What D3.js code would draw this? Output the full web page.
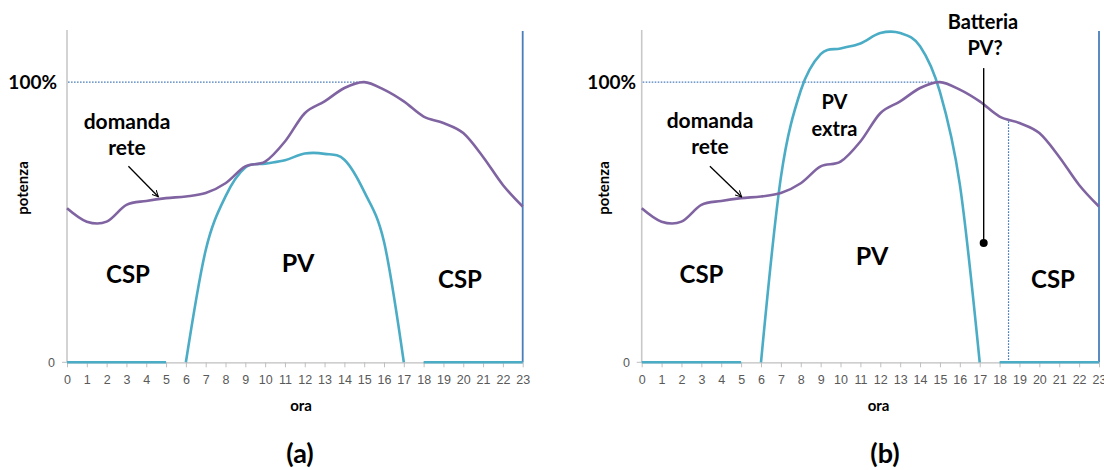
<!DOCTYPE html>
<html><head><meta charset="utf-8">
<script src="https://cdn.jsdelivr.net/npm/d3@7"></script>
<style>
body{margin:0;background:#fff}
svg{display:block}
.lbl{font-family:Lato,"Open Sans",sans-serif;font-weight:700;fill:#000}
.tick text{font-family:"Liberation Sans",Arial,sans-serif;fill:#595959}
</style>
</head><body>
<svg id="chart" width="1104" height="470"></svg>
<script>
// ---------------- data ----------------
const hours = [0,1,2,3,4,5,6,7,8,9,10,11,12,13,14,15,16,17,18,19,20,21,22,23];
const hourLabels = ["0","1","2","3","4","5","6","7","8","9","10","11","12","13","14","15","16","17","18","19","20","21","22","23"];
// grid demand ("domanda rete"), % of peak
const demand = [55.0,50.2,50.2,56.2,57.6,58.6,59.2,60.4,63.9,69.9,71.6,78.8,88.9,93.1,97.9,100,97.3,93.1,87.7,85.4,81.8,73.3,63.3,55.6];
// PV output, panel (a)
const pvA = [0,0,0,0,0,0,0,40,59.2,69.5,70.9,72.1,74.5,74.4,72.3,60.9,43,0,0,0,0,0,0,0];
// PV output with extra capacity, panel (b)
const pvB = [0,0,0,0,0,0,0,66,97,110,112,113.8,117.5,117.5,112.8,96.5,63.5,0,0,0,0,0,0,0];
const yTickValues = [0,100];
const yTickLabels = ["0","100%"];
const yMax = 118.6;
const peakHour = 15;
const peakValue = 100;
const batteryEnd = {hour:18.45, value:86};
const batteryPin = {hour:17.2, top:105, bottom:42.6};

// ---------------- layout ----------------
const svg = d3.select("#chart");
const C_DEM = "#8064a2", C_PV = "#4bacc6", C_BLUE = "#4a7ebb";
const Y0 = 362.3, YTOP = 30;

svg.append("defs").append("marker")
  .attr("id","arr").attr("viewBox","0 0 10 10").attr("refX",9).attr("refY",5)
  .attr("markerWidth",7).attr("markerHeight",7).attr("orient","auto").attr("markerUnits","userSpaceOnUse")
  .append("path").attr("d","M0,0.5 L9,5 L0,9.5").attr("fill","none").attr("stroke","#000").attr("stroke-width",1.4);

const panels = [
  {x0:67, x1:522.7, pv:pvA, name:"(a)", nameX:300,
   arrow:{from:[3.1,70], to:[4.61,59.1]},
   hundredX:57, zeroX:55, potenzaX:27.5, oraX:301,
   texts:[["domanda",127,129,21],["rete",127,155,21],["CSP",128,283,24],["PV",298,272,25],["CSP",460,288,24]],
   battery:false},
  {x0:641.7, x1:1099, pv:pvB, name:"(b)", nameX:885,
   arrow:{from:[3.43,70], to:[5.03,59.0]},
   hundredX:636, zeroX:630, potenzaX:609, oraX:878.5,
   texts:[["domanda",710,128,21],["rete",710,154,21],["PV",834.5,109,20],["extra",834.5,136,20],
          ["CSP",701.5,283,24],["PV",872,265,25],["CSP",1053,288,24],
          ["Batteria",983,29,20],["PV?",985,55,20]],
   battery:true}
];

panels.forEach(p => {
  const x = d3.scaleLinear().domain([hours[0], hours[hours.length-1]]).range([p.x0, p.x1]);
  const y = d3.scaleLinear().domain([0, yMax]).range([Y0, YTOP]);
  const g = svg.append("g");

  // y axis line
  g.append("line").attr("x1",p.x0).attr("x2",p.x0).attr("y1",y(yMax)).attr("y2",y(0))
    .attr("stroke","#c8c8c8").attr("stroke-width",1.6);
  // y tick at 0
  g.append("line").attr("x1",p.x0-5).attr("x2",p.x0).attr("y1",y(0)).attr("y2",y(0))
    .attr("stroke","#bfbfbf").attr("stroke-width",1);
  g.append("text").attr("class","lbl").attr("x",p.zeroX).attr("y",y(yTickValues[0])+4.4)
    .attr("text-anchor","end").style("font-family","'Liberation Sans',Arial,sans-serif")
    .style("font-weight","400").style("font-size","12.5px").style("fill","#595959").text(yTickLabels[0]);
  g.append("text").attr("class","lbl").attr("x",p.hundredX).attr("y",y(yTickValues[1])+6.8)
    .attr("text-anchor","end").style("font-size","19px").text(yTickLabels[1]);

  // x axis
  const ax = g.append("g").attr("transform",`translate(0,${y(0)})`)
    .call(d3.axisBottom(x).tickValues(hours).tickFormat((d,i)=>hourLabels[i]).tickSize(5).tickSizeOuter(0).tickPadding(7.5));
  ax.select(".domain").attr("stroke","#bfbfbf").attr("stroke-width",1.3);
  ax.selectAll(".tick line").attr("stroke","#bfbfbf");
  ax.selectAll(".tick text").style("font-size","12.5px");

  // 100% dotted reference
  g.append("line").attr("x1",p.x0+1).attr("x2",x(peakHour)).attr("y1",y(peakValue)).attr("y2",y(peakValue))
    .attr("stroke",C_BLUE).attr("stroke-width",1.3).attr("stroke-dasharray","1.6,1.4");

  // right edge blue line
  g.append("line").attr("x1",x(23)).attr("x2",x(23)).attr("y1",y(yMax)+1).attr("y2",y(0))
    .attr("stroke",C_BLUE).attr("stroke-width",1.8);

  if (p.battery) {
    g.append("line").attr("x1",x(batteryEnd.hour)).attr("x2",x(batteryEnd.hour))
      .attr("y1",y(batteryEnd.value)).attr("y2",y(0))
      .attr("stroke",C_BLUE).attr("stroke-width",1.2).attr("stroke-dasharray","1.6,1.4");
  }

  const curve = d3.curveCardinal.tension(0);
  const line = d3.line().x(d=>x(d[0])).y(d=>y(d[1])).curve(curve);
  const straight = d3.line().x(d=>x(d[0])).y(d=>y(d[1]));

  // PV
  const pvPts = hours.map((h,i)=>[h,p.pv[i]]);
  const dayIdx = pvPts.filter((d,i)=> i>=6 && i<=17);
  const night1 = pvPts.filter((d,i)=> i<=5);
  const night2 = pvPts.filter((d,i)=> i>=18);
  [night1, night2].forEach(seg => g.append("path").attr("d",straight(seg)).attr("fill","none")
      .attr("stroke",C_PV).attr("stroke-width",2.6));
  g.append("path").attr("d",line(dayIdx)).attr("fill","none").attr("stroke",C_PV).attr("stroke-width",2.6);

  // demand
  g.append("path").attr("d",line(hours.map((h,i)=>[h,demand[i]]))).attr("fill","none")
    .attr("stroke",C_DEM).attr("stroke-width",2.6).attr("stroke-linejoin","round");

  if (p.battery) {
    g.append("line").attr("x1",x(batteryPin.hour)).attr("x2",x(batteryPin.hour))
      .attr("y1",y(batteryPin.top)).attr("y2",y(batteryPin.bottom)).attr("stroke","#000").attr("stroke-width",1.4);
    g.append("circle").attr("cx",x(batteryPin.hour)).attr("cy",y(batteryPin.bottom)).attr("r",4).attr("fill","#000");
  }

  // arrow
  g.append("line").attr("x1",x(p.arrow.from[0])).attr("y1",y(p.arrow.from[1]))
    .attr("x2",x(p.arrow.to[0])).attr("y2",y(p.arrow.to[1]))
    .attr("stroke","#000").attr("stroke-width",1.3).attr("marker-end","url(#arr)");

  // texts
  p.texts.forEach(t => g.append("text").attr("class","lbl").attr("x",t[1]).attr("y",t[2])
    .attr("text-anchor","middle").style("font-size",t[3]+"px").text(t[0]));

  // axis titles
  g.append("text").attr("class","lbl").attr("x",p.oraX).attr("y",411).attr("text-anchor","middle")
    .style("font-size","15px").text("ora");
  g.append("text").attr("class","lbl").attr("transform",`translate(${p.potenzaX},188) rotate(-90)`)
    .attr("text-anchor","middle").style("font-size","15px").text("potenza");
  g.append("text").attr("class","lbl").attr("x",p.nameX).attr("y",463).attr("text-anchor","middle")
    .style("font-size","27px").text(p.name);
});
</script>
</body></html>
